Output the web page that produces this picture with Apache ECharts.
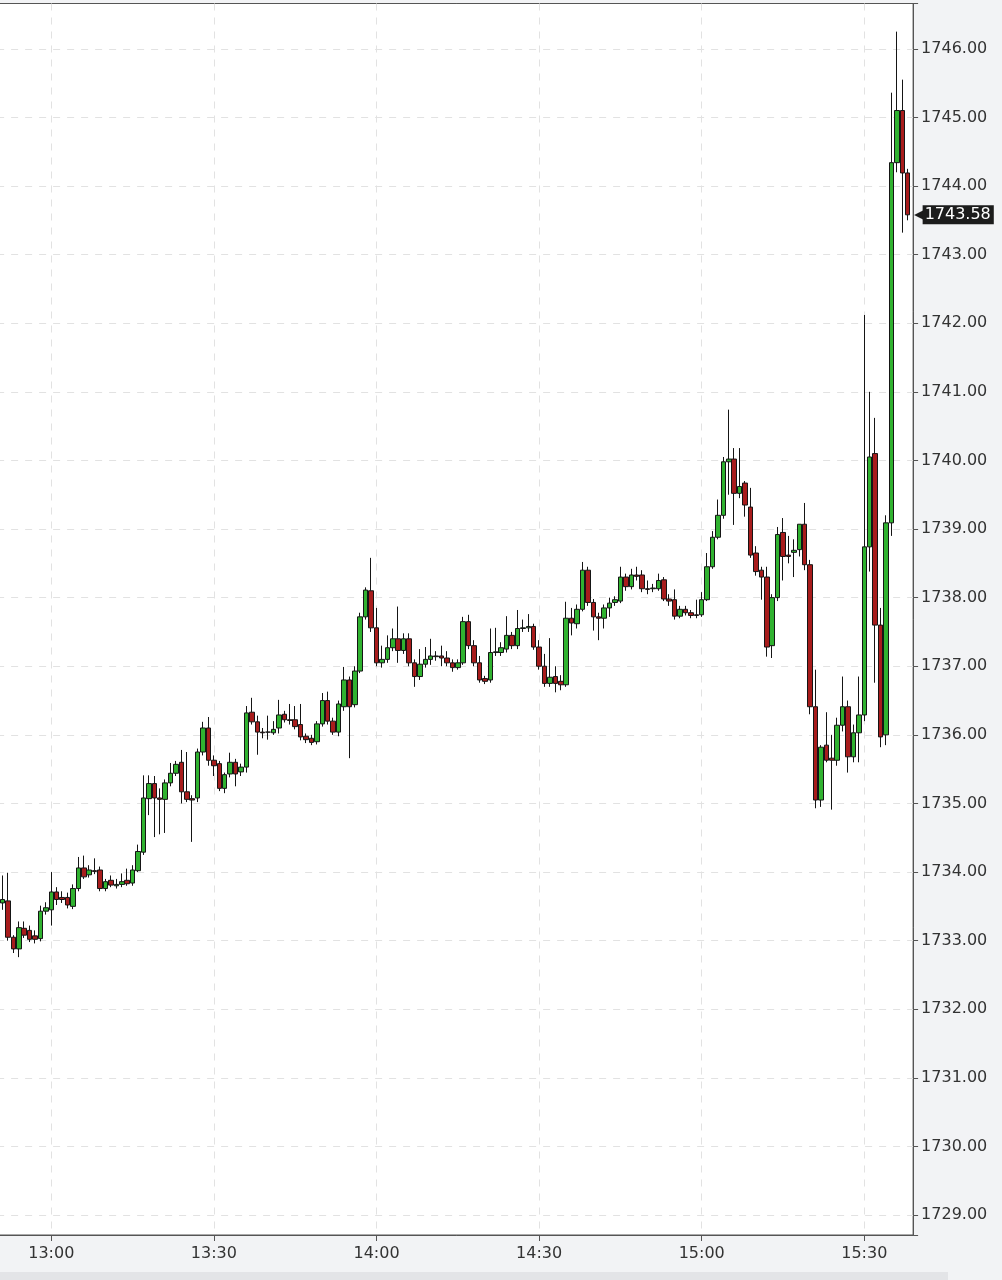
<!DOCTYPE html>
<html>
<head>
<meta charset="utf-8">
<script src="https://cdn.jsdelivr.net/npm/echarts@6/dist/echarts.min.js"></script>
<style>
  html, body { margin: 0; padding: 0; background: #f2f3f5; }
  #chart { width: 1002px; height: 1280px; }
</style>
</head>
<body>
<div id="chart"></div>
<script>
// ---- Data (1-minute candles, 12:51 .. 15:38) ----
const firstCategory = '12:50';
const lastCategory = '15:39';
const firstCandle = '12:51';

const opens = [
  1733.55,1733.58,1733.05,1732.88,1733.18,1733.15,1733.07,1733.03,1733.43,1733.45,
  1733.71,1733.63,1733.63,1733.50,1733.76,1734.06,1733.96,1734.02,1734.03,1733.76,
  1733.88,1733.80,1733.82,1733.88,1733.84,1734.02,1734.29,1735.07,1735.29,1735.08,
  1735.06,1735.30,1735.44,1735.60,1735.17,1735.07,1735.08,1735.75,1736.10,1735.63,
  1735.58,1735.22,1735.43,1735.60,1735.46,1735.53,1736.33,1736.19,1736.04,1736.04,
  1736.03,1736.10,1736.30,1736.22,1736.22,1736.15,1735.98,1735.95,1735.90,1736.16,
  1736.50,1736.20,1736.04,1736.41,1736.80,1736.44,1736.93,1737.72,1738.10,1737.56,
  1737.05,1737.10,1737.27,1737.40,1737.23,1737.40,1737.05,1736.85,1737.03,1737.10,
  1737.15,1737.15,1737.12,1737.05,1736.98,1737.05,1737.65,1737.30,1737.05,1736.82,
  1736.80,1737.20,1737.20,1737.25,1737.45,1737.30,1737.55,1737.56,1737.58,1737.28,
  1737.00,1736.75,1736.85,1736.78,1736.73,1737.70,1737.62,1737.83,1738.40,1737.93,
  1737.72,1737.70,1737.85,1737.93,1737.95,1738.30,1738.16,1738.33,1738.33,1738.13,
  1738.13,1738.13,1738.26,1737.98,1737.97,1737.73,1737.83,1737.78,1737.75,1737.75,
  1737.97,1738.45,1738.88,1739.20,1739.98,1740.02,1739.52,1739.67,1739.32,1738.65,
  1738.40,1738.30,1737.30,1738.00,1738.95,1738.62,1738.66,1738.70,1739.07,1738.48,
  1736.41,1735.05,1735.85,1735.66,1735.63,1736.14,1736.41,1735.68,1736.03,1736.29,
  1738.74,1740.10,1737.60,1736.00,1739.09,1744.34,1745.10,1744.19
];
const closes = [
  1733.60,1733.05,1732.88,1733.19,1733.08,1733.02,1733.02,1733.43,1733.48,1733.71,
  1733.60,1733.60,1733.52,1733.76,1734.06,1733.93,1734.03,1734.01,1733.76,1733.86,
  1733.81,1733.82,1733.86,1733.83,1734.03,1734.30,1735.08,1735.29,1735.08,1735.06,
  1735.30,1735.44,1735.57,1735.17,1735.06,1735.05,1735.75,1736.10,1735.63,1735.55,
  1735.22,1735.42,1735.60,1735.43,1735.53,1736.32,1736.19,1736.04,1736.03,1736.04,
  1736.08,1736.29,1736.22,1736.21,1736.12,1735.97,1735.93,1735.89,1736.16,1736.50,
  1736.20,1736.04,1736.45,1736.80,1736.41,1736.93,1737.72,1738.11,1737.56,1737.05,
  1737.10,1737.27,1737.40,1737.23,1737.40,1737.05,1736.85,1737.03,1737.10,1737.15,
  1737.14,1737.12,1737.05,1736.98,1737.05,1737.65,1737.30,1737.05,1736.80,1736.78,
  1737.20,1737.21,1737.27,1737.45,1737.30,1737.55,1737.56,1737.58,1737.28,1737.00,
  1736.75,1736.84,1736.75,1736.73,1737.70,1737.63,1737.83,1738.40,1737.93,1737.72,
  1737.70,1737.85,1737.92,1737.97,1738.30,1738.16,1738.33,1738.31,1738.13,1738.12,
  1738.14,1738.25,1737.98,1737.95,1737.73,1737.83,1737.78,1737.74,1737.74,1737.97,
  1738.45,1738.88,1739.20,1739.98,1740.02,1739.52,1739.62,1739.35,1738.62,1738.38,
  1738.30,1737.28,1738.00,1738.92,1738.60,1738.60,1738.69,1739.07,1738.48,1736.41,
  1735.05,1735.82,1735.63,1735.63,1736.14,1736.41,1735.68,1736.03,1736.29,1738.74,
  1740.05,1737.60,1735.97,1739.09,1744.34,1745.10,1744.19,1743.58
];
const lows = [
  1733.45,1733.00,1732.82,1732.76,1733.04,1732.98,1732.96,1732.99,1733.38,1733.22,
  1733.52,1733.55,1733.47,1733.46,1733.72,1733.90,1733.92,1733.97,1733.72,1733.72,
  1733.78,1733.76,1733.78,1733.80,1733.80,1734.00,1734.25,1734.83,1734.51,1734.55,
  1734.57,1735.25,1735.40,1735.00,1735.02,1734.44,1735.02,1735.70,1735.55,1735.40,
  1735.18,1735.15,1735.38,1735.25,1735.40,1735.45,1736.15,1735.71,1735.95,1735.93,
  1736.00,1736.02,1736.18,1736.15,1736.08,1735.92,1735.88,1735.85,1735.86,1736.12,
  1736.15,1736.00,1735.98,1736.35,1735.66,1736.40,1736.90,1737.68,1737.50,1737.00,
  1736.98,1737.05,1737.22,1737.05,1737.18,1737.00,1736.70,1736.80,1736.98,1737.02,
  1737.08,1737.00,1737.00,1736.92,1736.95,1737.02,1737.25,1737.00,1736.76,1736.74,
  1736.76,1737.15,1737.15,1737.20,1737.25,1737.25,1737.50,1737.50,1737.24,1736.95,
  1736.70,1736.70,1736.62,1736.65,1736.70,1737.45,1737.55,1737.80,1737.88,1737.52,
  1737.38,1737.55,1737.72,1737.88,1737.92,1738.10,1738.12,1738.25,1738.08,1738.05,
  1738.08,1738.10,1737.95,1737.88,1737.68,1737.70,1737.74,1737.70,1737.70,1737.72,
  1737.95,1738.42,1738.85,1739.15,1739.50,1739.06,1739.45,1739.18,1738.58,1738.32,
  1737.97,1737.14,1737.12,1737.95,1738.25,1738.50,1738.30,1738.60,1738.40,1736.30,
  1734.93,1734.95,1735.60,1734.91,1735.55,1736.05,1735.45,1735.60,1735.60,1736.20,
  1738.38,1736.76,1735.82,1735.85,1738.90,1744.20,1743.32,1743.50
];
const highs = [
  1733.95,1733.99,1733.08,1733.28,1733.28,1733.22,1733.15,1733.51,1733.56,1734.00,
  1733.78,1733.72,1733.70,1733.82,1734.22,1734.24,1734.10,1734.20,1734.08,1733.90,
  1733.95,1733.90,1733.98,1734.05,1734.10,1734.40,1735.41,1735.41,1735.40,1735.22,
  1735.35,1735.59,1735.62,1735.78,1735.75,1735.12,1735.80,1736.19,1736.26,1735.70,
  1735.62,1735.45,1735.74,1735.65,1735.58,1736.42,1736.54,1736.28,1736.10,1736.28,
  1736.20,1736.51,1736.35,1736.45,1736.42,1736.45,1736.02,1736.00,1736.20,1736.61,
  1736.63,1736.25,1736.50,1736.99,1736.85,1737.00,1737.78,1738.15,1738.58,1737.85,
  1737.30,1737.45,1737.55,1737.87,1737.48,1737.48,1737.10,1737.25,1737.28,1737.40,
  1737.22,1737.30,1737.22,1737.10,1737.10,1737.72,1737.75,1737.38,1737.15,1736.86,
  1737.55,1737.56,1737.35,1737.73,1737.50,1737.82,1737.68,1737.76,1737.62,1737.38,
  1737.18,1737.41,1737.00,1736.87,1737.94,1737.85,1737.90,1738.52,1738.45,1737.98,
  1737.78,1737.90,1738.00,1738.02,1738.45,1738.35,1738.42,1738.45,1738.40,1738.25,
  1738.20,1738.35,1738.30,1738.05,1738.12,1737.88,1737.88,1737.82,1737.97,1738.08,
  1738.65,1738.97,1739.43,1740.05,1740.74,1740.18,1740.18,1739.70,1739.60,1738.75,
  1738.45,1738.45,1738.05,1739.03,1739.16,1738.90,1738.85,1739.07,1739.38,1738.55,
  1736.95,1735.85,1736.33,1736.00,1736.25,1736.85,1736.50,1736.15,1736.85,1742.12,
  1741.00,1740.62,1737.85,1739.20,1745.36,1746.25,1745.55,1744.25
];
const labelTimes = ['13:00','13:30','14:00','14:30','15:00','15:30'];
const yMin = 1728.71, yMax = 1746.66;

// ---- build categories (one per minute) and candle rows ----
function toMin(s){ const p = s.split(':'); return (+p[0])*60 + (+p[1]); }
function toStr(m){ const h = Math.floor(m/60), mm = m%60; return h + ':' + (mm<10?'0':'') + mm; }
const times = [];
for (let m = toMin(firstCategory); m <= toMin(lastCategory); m++) times.push(toStr(m));
const offset = toMin(firstCandle) - toMin(firstCategory);
const candleData = times.map((t, i) => {
  const k = i - offset;
  if (k < 0 || k >= opens.length) return '-';
  return [opens[k], closes[k], lows[k], highs[k]];
});
const lastPrice = closes[closes.length - 1];

const showTime = (idx, val) => labelTimes.indexOf(val) >= 0;
const axisColor = '#555555';
const gridDash = { color: '#e2e2e2', width: 1, type: [7, 7] };

const chart = echarts.init(document.getElementById('chart'), null, { renderer: 'canvas' });
chart.setOption({
  backgroundColor: '#f2f3f5',
  animation: false,
  grid: {
    left: -2.9, right: 88.9, top: 3.5, bottom: 45,
    show: true, backgroundColor: '#ffffff', borderColor: axisColor, borderWidth: 1,
    outerBoundsMode: 'none', containLabel: false
  },
  xAxis: {
    type: 'category',
    data: times,
    boundaryGap: false,
    axisLine: { show: true, lineStyle: { color: axisColor } },
    axisTick: { show: true, alignWithLabel: true, interval: showTime, length: 6, lineStyle: { color: axisColor } },
    axisLabel: { interval: showTime, color: '#333333', fontSize: 16, fontFamily: 'DejaVu Sans', margin: 11 },
    splitLine: { show: true, interval: showTime, lineStyle: gridDash }
  },
  yAxis: {
    type: 'value',
    position: 'right',
    scale: true,
    min: yMin, max: yMax,
    minInterval: 1, maxInterval: 1, splitNumber: 18,
    axisLine: { show: true, lineStyle: { color: axisColor } },
    axisTick: { show: true, length: 5, lineStyle: { color: axisColor } },
    axisLabel: {
      color: '#333333', fontSize: 16, fontFamily: 'DejaVu Sans', margin: 8,
      formatter: v => Math.abs(v - Math.round(v)) < 1e-6 ? v.toFixed(2) : ''
    },
    splitLine: { show: true, showMinLine: false, showMaxLine: false, lineStyle: gridDash }
  },
  series: [{
    type: 'candlestick',
    data: candleData,
    barWidth: 5,
    itemStyle: {
      color: '#30b230', color0: '#a81c1c',
      borderColor: '#151515', borderColor0: '#151515', borderColorDoji: '#151515',
      borderWidth: 1
    },
    markLine: {
      silent: true,
      symbol: ['none', 'none'],
      animation: false,
      lineStyle: { color: 'rgba(0,0,0,0)', width: 1, type: 'solid', opacity: 1 },
      data: [{ yAxis: lastPrice }],
      label: {
        show: true,
        opacity: 1,
        position: 'end',
        distance: 1,
        formatter: () => '{a|◀}{b|' + lastPrice.toFixed(2) + '}',
        rich: {
          a: { color: '#1c1c1c', fontSize: 15, fontFamily: 'DejaVu Sans', padding: [0, -3, 0, 0] },
          b: { color: '#ffffff', backgroundColor: '#1c1c1c', fontSize: 16, fontFamily: 'DejaVu Sans',
               padding: [2, 3, 1, 2], lineHeight: 18 }
        }
      }
    }
  }],
  graphic: [{
    type: 'rect', left: 0, bottom: 0, silent: true,
    shape: { width: 948, height: 8 },
    style: { fill: '#e3e4e7' }
  }]
});
</script>
</body>
</html>
